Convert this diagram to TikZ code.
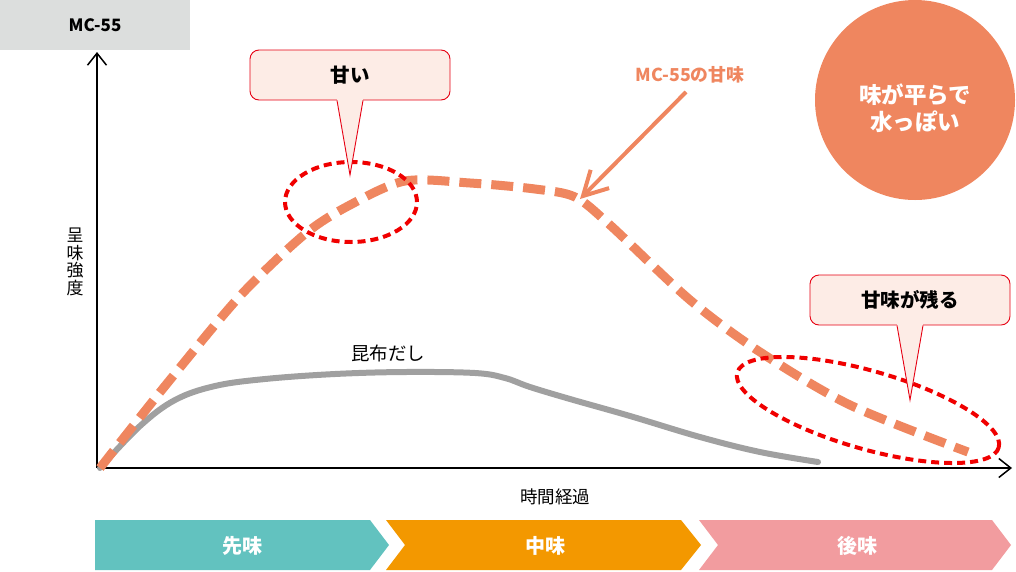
\documentclass[tikz,border=0pt]{standalone}
\usepackage{fontspec}
\setmainfont{Noto Sans CJK JP}
\usepackage{xcolor}
\usepackage{tikz}
\usetikzlibrary{shapes,arrows,positioning,calc,arrows.meta}

\definecolor{mcorange}{RGB}{239,134,95}
\definecolor{ringred}{RGB}{240,0,0}
\definecolor{boxred}{RGB}{230,0,18}
\definecolor{boxfill}{RGB}{253,236,230}
\definecolor{tabgray}{RGB}{220,222,221}
\definecolor{dashigray}{RGB}{160,160,160}
\definecolor{tealtab}{RGB}{98,194,191}
\definecolor{orangetab}{RGB}{243,152,0}
\definecolor{pinktab}{RGB}{242,156,159}

\tikzset{
    axis/.style={line width=1.5pt, -{Straight Barb[length=12pt,width=19pt,line width=1.5pt]}},
    callout/.style={draw=boxred, fill=boxfill, line width=0.9pt, rounded corners=9pt,
        minimum width=200pt, minimum height=50pt, font=\fontsize{19.5pt}{22pt}\selectfont\bfseries},
    ring/.style={draw=ringred, ellipse, line width=4pt, dash pattern=on 8pt off 5pt},
    tabtext/.style={text=white, font=\fontsize{20pt}{22pt}\selectfont\bfseries}
}

\begin{document}
\begin{tikzpicture}[x=1pt,y=-1pt]
    \useasboundingbox (0,0) rectangle (1016,571);

    % product tab
    \fill[tabgray] (0,0) rectangle (190,50);
    \node[font=\fontsize{17pt}{20pt}\selectfont\bfseries] (tab) at (95,25) {MC-55};

    % axes
    \coordinate (O) at (97,468);
    \coordinate (ytop) at (97,52);
    \coordinate (xend) at (1012,468);
    \draw[axis] (O) -- (ytop);
    \draw[axis] (O) -- (xend);
    \node[align=center, inner sep=0pt, font=\fontsize{17pt}{17.5pt}\selectfont] (ylab) at (75,262) {呈\\味\\強\\度};
    \node[font=\fontsize{17.5pt}{20pt}\selectfont] (xlab) at (555,497) {時間経過};

    % kombu dashi curve
    \draw[dashigray, line width=6pt, line cap=round] plot[smooth, tension=0.6] coordinates {
        (100,468) (140,426) (175,400) (215,386) (265,379) (335,374) (405,372)
        (475,373) (505,378) (530,387) (570,399) (630,416) (700,437) (760,452) (818,462)};
    \node[font=\fontsize{18.5pt}{20pt}\selectfont] (dashi) at (388,353) {昆布だし};

    % MC-55 curve
    \draw[mcorange, line width=9pt, dash pattern=on 22pt off 10pt] plot[smooth, tension=0.5] coordinates {
        (100,468) (165,386) (240,296) (305,234) (350,205) (405,181)
        (470,183) (535,189) (575,197) (610,225) (690,300) (760,352)
        (850,405) (968,452)};

    % rings
    \node[ring, minimum width=132pt, minimum height=80pt] (amaiRing) at (351,202) {};
    \node[ring, minimum width=272pt, minimum height=78pt, rotate=-16] (nokoruRing) at (868,410) {};

    % callouts
    \node[callout] (amai) at (350,75) {甘い};
    \coordinate (amaiTip) at (350,175);
    \fill[boxfill] ($(amai.south)+(-13,-1.5)$) -- (amaiTip) -- ($(amai.south)+(13,-1.5)$) -- cycle;
    \draw[boxred, line width=0.9pt] ($(amai.south)+(-13,0)$) -- (amaiTip) -- ($(amai.south)+(13,0)$);

    \node[callout] (nokoru) at (910,300) {甘味が残る};
    \coordinate (nokoruTip) at (910,400);
    \fill[boxfill] ($(nokoru.south)+(-13,-1.5)$) -- (nokoruTip) -- ($(nokoru.south)+(13,-1.5)$) -- cycle;
    \draw[boxred, line width=0.9pt] ($(nokoru.south)+(-13,0)$) -- (nokoruTip) -- ($(nokoru.south)+(13,0)$);

    % MC-55 label and arrow
    \node[text=mcorange, font=\fontsize{17.8pt}{20pt}\selectfont\bfseries] (mclab) at (690,75) {MC-55の甘味};
    \coordinate (mcTip) at (580,199);
    \draw[mcorange, line width=4pt, -{Straight Barb[length=24pt,width=26pt,line width=4pt]}] (686,92) -- (mcTip);

    % verdict circle
    \node[circle, fill=mcorange, minimum size=200pt, inner sep=0pt] (verdict) at (915,100) {};
    \node[align=center, text=white, font=\fontsize{22.5pt}{27pt}\selectfont\bfseries] at ($(verdict)+(0,8)$) {味が平らで\\水っぽい};

    % taste phases
    \fill[tealtab] (95,520) -- (370,520) -- (389,545) -- (370,570) -- (95,570) -- cycle;
    \fill[orangetab] (386,520) -- (681,520) -- (701,545) -- (681,570) -- (386,570) -- (405,545) -- cycle;
    \fill[pinktab] (699,520) -- (992,520) -- (1011,545) -- (992,570) -- (699,570) -- (718,545) -- cycle;
    \node[tabtext] (saki) at (242,546) {先味};
    \node[tabtext] (naka) at (545,546) {中味};
    \node[tabtext] (ato) at (857,546) {後味};
\end{tikzpicture}
\end{document}
